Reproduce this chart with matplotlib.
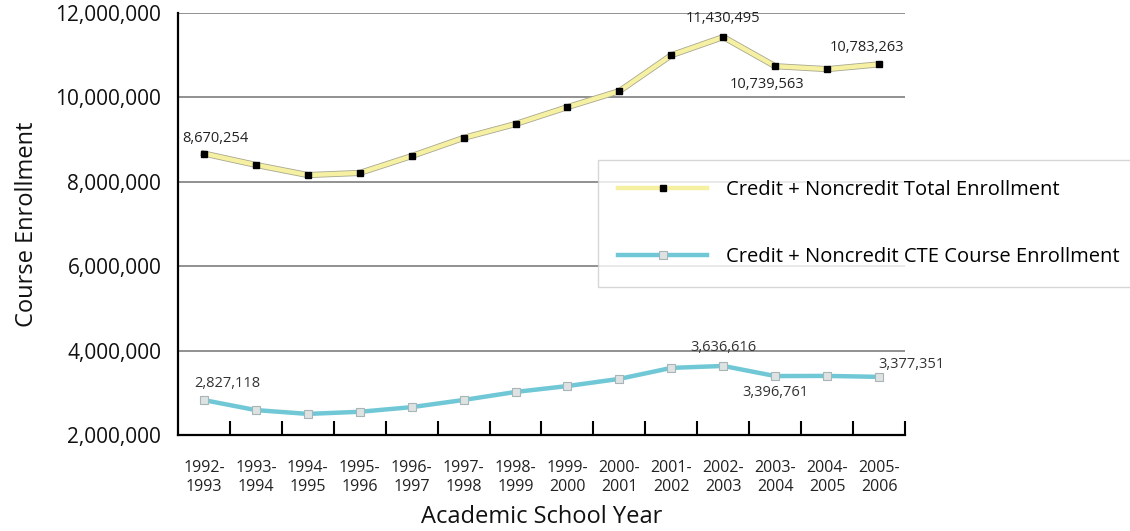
import numpy as np
import matplotlib.pyplot as plt
import matplotlib.patheffects as pe
from matplotlib.ticker import FuncFormatter

plt.rcParams['font.family'] = ['Open Sans', 'DejaVu Sans']

# Data
years = ['1992-\n1993', '1993-\n1994', '1994-\n1995', '1995-\n1996', '1996-\n1997',
         '1997-\n1998', '1998-\n1999', '1999-\n2000', '2000-\n2001', '2001-\n2002',
         '2002-\n2003', '2003-\n2004', '2004-\n2005', '2005-\n2006']
total_enroll = [8670254, 8400000, 8160000, 8210000, 8610000, 9040000, 9370000,
                9770000, 10150000, 11000000, 11430495, 10739563, 10670000, 10783263]
cte_enroll = [2827118, 2590000, 2500000, 2550000, 2660000, 2830000, 3020000,
              3160000, 3330000, 3590000, 3636616, 3396761, 3400000, 3377351]

# annotated points: (index, dx, dy) offsets in points
total_notes = [(0, 8, 11), (10, 0, 13), (11, -6, -13), (13, -9, 12)]
cte_notes = [(0, 17, 12), (10, 0, 13), (11, 0, -12), (13, 23, 9)]

fig = plt.figure(figsize=(11.3, 5.31), dpi=100)
ax = fig.add_axes([0.1575, 0.1808, 0.6434, 0.7947])

x = np.arange(len(years)) + 0.5

ax.plot(x, total_enroll, color='#f6f0a2', linewidth=3.2, zorder=3,
        path_effects=[pe.Stroke(linewidth=4.4, foreground='#a8a890'), pe.Normal()])
ax.plot(x, total_enroll, color='#f6f0a2', linewidth=3.2, marker='s', markersize=4.5,
        markerfacecolor='black', markeredgecolor='black', zorder=4, linestyle='none')
ax.plot([], [], color='#f6f0a2', linewidth=3.2, marker='s', markersize=4.5,
        markerfacecolor='black', markeredgecolor='black',
        label='Credit + Noncredit Total Enrollment')
ax.plot(x, cte_enroll, color='#70c8d6', linewidth=3.2, marker='s', markersize=6,
        markerfacecolor='#dde2e2', markeredgecolor='#a8b4b6', markeredgewidth=0.8,
        zorder=4, label='Credit + Noncredit CTE Course Enrollment')

for i, dx, dy in total_notes:
    ax.annotate(f'{total_enroll[i]:,}', (x[i], total_enroll[i]), xytext=(dx, dy),
                textcoords='offset points', ha='center', va='center',
                fontsize=10.5, color='#222222', zorder=5)
for i, dx, dy in cte_notes:
    ax.annotate(f'{cte_enroll[i]:,}', (x[i], cte_enroll[i]), xytext=(dx, dy),
                textcoords='offset points', ha='center', va='center',
                fontsize=10.5, color='#333333', zorder=5)

ax.set_xlim(0, len(years))
ax.set_ylim(2000000, 12000000)
ax.set_yticks(np.arange(2000000, 12000001, 2000000))
ax.yaxis.set_major_formatter(FuncFormatter(lambda v, p: f'{int(v):,}'))
ax.tick_params(axis='y', length=0, pad=12, labelsize=15, labelcolor='#111111')

ax.set_xticks(np.arange(1, len(years) + 1))
ax.set_xticklabels([])
ax.set_xticks(x, minor=True)
ax.set_xticklabels(years, minor=True, linespacing=1.25)
ax.tick_params(axis='x', which='major', direction='in', length=10, width=1.5, color='black')
ax.tick_params(axis='x', which='minor', length=0, pad=18, labelsize=11.5, labelcolor='#222222')

for v in range(4000000, 12000001, 2000000):
    ax.axhline(v, color='#888888', linewidth=1.3, zorder=1)

for s in ['top', 'right']:
    ax.spines[s].set_visible(False)
ax.spines['left'].set_linewidth(1.6)
ax.spines['bottom'].set_linewidth(1.6)

ax.set_ylabel('Course Enrollment', fontsize=17, labelpad=12, color='#111111')
ax.set_xlabel('Academic School Year', fontsize=17, labelpad=7, color='#111111')

leg = fig.legend(loc='upper left', bbox_to_anchor=(0.5295, 0.463, 0.48, 0.236),
                 bbox_transform=fig.transFigure, mode='expand',
                 fontsize=14.5, frameon=True, fancybox=False, handlelength=4.4,
                 handletextpad=0.95, labelspacing=2.35, borderpad=1.0, borderaxespad=0)
leg.get_frame().set_edgecolor('#cccccc')
leg.get_frame().set_linewidth(1.0)

fig.savefig('out.png', dpi=100)
